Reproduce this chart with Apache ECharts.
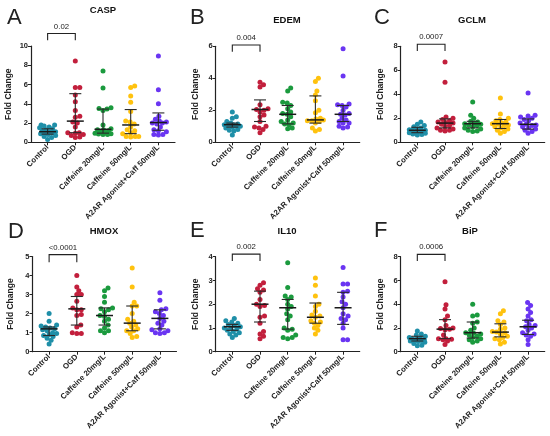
<!DOCTYPE html>
<html>
<head>
<meta charset="utf-8">
<script src="https://cdn.jsdelivr.net/npm/echarts@6/dist/echarts.min.js"></script>
<style>html,body{margin:0;padding:0;background:#fff}#c{width:550px;height:436px}</style>
</head>
<body>
<div id="c"></div>
<script>
// ---- data ----
const groups = ['Control', 'OGD', 'Caffeine 20mg/L', 'Caffeine 50mg/L', 'A2AR Agonist+Caff 50mg/L'];
const groupColors = ['#1f8fa8', '#c21f3c', '#1b9a3e', '#ffc20e', '#6a35f2'];
const panelTitles = ['CASP', 'EDEM', 'GCLM', 'HMOX', 'IL10', 'BiP'];
const panelLetters = ['A', 'B', 'C', 'D', 'E', 'F'];
const pValues = ['0.02', '0.004', '0.0007', '<0.0001', '0.002', '0.0006'];
const yMax = [10, 6, 8, 5, 4, 8];
const yInterval = [2, 2, 2, 1, 1, 2];
const bracketTop = [11.3, 6.08, 8.17, 5.1, 4.11, 8.2];
const bracketLeg = [10.6, 5.66, 7.6, 4.7, 3.82, 7.64];

const casp = [
  [1.8, 1.8, 1.7, 1.6, 1.5, 1.4, 1.3, 1.2, 1.1, 1.1, 1.0, 1.0, 0.9, 0.8, 0.7, 0.6, 0.5, 0.3],
  [8.45, 5.7, 5.7, 4.9, 4.2, 3.3, 2.7, 2.6, 2.1, 2.0, 1.6, 1.0, 1.0, 0.95, 0.8, 0.7, 0.5, 0.55],
  [7.4, 5.65, 3.6, 3.5, 3.45, 3.3, 1.8, 1.4, 1.3, 1.3, 1.2, 1.1, 1.0, 0.95, 0.9, 0.85, 0.8, 0.8],
  [5.85, 5.7, 4.8, 4.15, 3.2, 2.2, 2.1, 1.9, 1.6, 1.3, 1.2, 1.0, 0.9, 0.6, 0.6, 0.6, 0.55],
  [8.95, 5.45, 4.0, 2.7, 2.4, 2.2, 2.1, 2.0, 2.0, 1.9, 1.6, 1.3, 1.2, 1.1, 0.8, 0.8, 0.75]
];
const caspStats = [[1.1, 0.85, 1.4], [2.2, 1.0, 5.05], [1.35, 0.95, 3.45], [1.8, 0.9, 3.4], [2.05, 1.25, 3.05]];

const edem = [
  [1.9, 1.6, 1.5, 1.3, 1.2, 1.15, 1.1, 1.1, 1.05, 1.0, 1.0, 0.95, 0.9, 0.8, 0.75, 0.7, 0.45],
  [3.75, 3.6, 3.45, 2.35, 2.1, 2.05, 2.0, 1.9, 1.7, 1.6, 1.3, 1.0, 0.95, 0.9, 0.8, 0.6],
  [3.4, 3.2, 2.5, 2.45, 2.3, 2.1, 1.9, 1.8, 1.75, 1.6, 1.4, 1.3, 1.2, 1.15, 1.1, 0.9, 0.85],
  [4.0, 3.8, 3.2, 2.95, 2.6, 2.0, 1.85, 1.5, 1.45, 1.4, 1.35, 1.35, 1.3, 1.2, 0.9, 0.8, 0.7],
  [5.85, 4.15, 2.4, 2.35, 2.3, 2.2, 2.0, 1.8, 1.75, 1.7, 1.5, 1.4, 1.3, 1.2, 1.2, 1.0, 0.95, 0.9]
];
const edemStats = [[1.1, 0.95, 1.2], [2.05, 1.3, 2.65], [1.75, 1.15, 2.3], [1.4, 1.2, 2.9], [1.75, 1.3, 2.3]];

const gclm = [
  [1.7, 1.5, 1.4, 1.3, 1.2, 1.1, 1.05, 1.0, 1.0, 0.95, 0.9, 0.9, 0.8, 0.75, 0.7, 0.65, 0.6],
  [6.7, 5.0, 2.1, 2.0, 1.9, 1.8, 1.7, 1.65, 1.6, 1.5, 1.4, 1.3, 1.2, 1.1, 1.0, 1.0, 0.95],
  [3.35, 2.25, 2.0, 1.75, 1.7, 1.6, 1.55, 1.5, 1.45, 1.4, 1.3, 1.2, 1.1, 1.0, 0.95, 0.9],
  [3.7, 2.35, 2.0, 1.9, 1.8, 1.7, 1.6, 1.55, 1.5, 1.45, 1.4, 1.3, 1.2, 1.1, 1.0, 0.9, 0.75],
  [4.1, 2.25, 2.2, 2.1, 2.0, 1.9, 1.8, 1.6, 1.5, 1.45, 1.4, 1.3, 1.2, 1.1, 1.0, 0.9, 0.75]
];
const gclmStats = [[1.0, 0.8, 1.25], [1.6, 1.2, 1.95], [1.55, 1.2, 1.75], [1.55, 1.15, 1.9], [1.5, 1.1, 1.95]];

const hmox = [
  [2.0, 1.6, 1.4, 1.35, 1.3, 1.25, 1.2, 1.15, 1.1, 1.0, 0.95, 0.9, 0.85, 0.8, 0.7, 0.6, 0.4],
  [4.0, 3.4, 3.2, 3.0, 3.0, 2.65, 2.3, 2.2, 2.2, 1.95, 1.9, 1.4, 1.3, 1.0, 0.95, 0.95],
  [3.35, 3.2, 2.9, 2.6, 2.3, 2.25, 2.2, 2.1, 1.9, 1.85, 1.7, 1.6, 1.4, 1.25, 1.1, 1.1, 1.0],
  [4.4, 3.4, 2.6, 2.4, 2.4, 2.0, 1.7, 1.6, 1.5, 1.4, 1.3, 1.2, 1.1, 1.1, 0.95, 0.8, 0.75],
  [3.1, 2.7, 2.25, 2.2, 2.1, 2.0, 1.9, 1.75, 1.6, 1.5, 1.4, 1.2, 1.15, 1.1, 1.0, 1.0, 0.95]
];
const hmoxStats = [[1.2, 0.85, 1.3], [2.25, 1.4, 2.9], [1.9, 1.4, 2.3], [1.5, 1.1, 2.4], [1.75, 1.2, 2.2]];

const il10 = [
  [1.4, 1.3, 1.25, 1.2, 1.15, 1.1, 1.05, 1.0, 1.0, 0.95, 0.9, 0.85, 0.8, 0.75, 0.7, 0.6],
  [2.9, 2.8, 2.65, 2.6, 2.5, 2.2, 2.0, 1.95, 1.9, 1.5, 1.45, 1.2, 0.85, 0.75, 0.65, 0.55],
  [3.75, 2.7, 2.35, 2.3, 2.2, 2.0, 1.9, 1.8, 1.6, 1.5, 1.35, 1.0, 0.95, 0.9, 0.7, 0.6, 0.6, 0.55],
  [3.1, 2.8, 2.35, 2.0, 1.9, 1.7, 1.55, 1.5, 1.45, 1.3, 1.25, 1.2, 1.1, 1.0, 0.9, 0.75],
  [3.55, 2.85, 2.85, 2.55, 2.5, 2.3, 2.1, 2.0, 1.85, 1.6, 1.5, 1.4, 1.35, 1.2, 1.0, 0.5, 0.5]
];
const il10Stats = [[1.05, 0.9, 1.15], [2.0, 1.25, 2.55], [1.85, 0.95, 2.2], [1.45, 1.2, 2.05], [1.85, 1.15, 2.5]];

const bip = [
  [1.75, 1.5, 1.4, 1.3, 1.2, 1.15, 1.1, 1.05, 1.0, 1.0, 0.95, 0.9, 0.85, 0.8, 0.7, 0.55, 0.5],
  [5.9, 3.95, 3.6, 3.0, 2.7, 2.2, 2.0, 1.95, 1.9, 1.85, 1.4, 1.1, 1.1, 1.05, 1.0, 0.9, 0.6],
  [4.0, 3.1, 3.0, 2.5, 2.4, 2.0, 1.8, 1.6, 1.55, 1.5, 1.4, 1.3, 1.2, 1.1, 1.0, 0.9, 0.8],
  [3.45, 3.2, 2.6, 2.5, 2.3, 2.0, 1.9, 1.7, 1.65, 1.6, 1.5, 1.3, 1.2, 1.1, 1.0, 0.8, 0.65],
  [4.15, 3.9, 3.6, 3.3, 3.0, 2.7, 2.6, 2.3, 2.2, 2.1, 2.0, 1.8, 1.6, 1.5, 1.4, 1.3, 1.0, 0.6]
];
const bipStats = [[1.1, 0.9, 1.3], [1.9, 1.1, 2.7], [1.6, 1.15, 2.5], [1.65, 1.25, 2.35], [2.1, 1.45, 2.65]];

const panelData = [casp, edem, gclm, hmox, il10, bip];
const panelStats = [caspStats, edemStats, gclmStats, hmoxStats, il10Stats, bipStats];

// ---- layout (pixels) ----
const layout = [
  {left: 31, top: 46, width: 144, height: 96.3, nameGap: 18},
  {left: 215.7, top: 46.3, width: 144, height: 96, nameGap: 16},
  {left: 400.7, top: 46.3, width: 144, height: 96, nameGap: 16},
  {left: 32.5, top: 256.5, width: 144, height: 95.2, nameGap: 17},
  {left: 215.7, top: 256.7, width: 144, height: 95, nameGap: 16},
  {left: 400.7, top: 256.7, width: 144, height: 95, nameGap: 16}
];
const titlePos = [[103, 10], [287, 20], [472, 20], [104, 231], [287, 231], [470, 231]];
const letterPos = [[7, 18], [190, 18], [374, 18], [8, 232], [190, 231], [374, 231]];
const xMin = -0.6, xMax = 4.6;
const FONT = '"Liberation Sans", Arial, Helvetica, sans-serif';
const DOT = 5;
const MIN_GAP = 4.2;
const MAX_HALF = 8;

// beeswarm: horizontal spreading of dots (pixel space), limited width, overlap allowed when crowded
function swarm(vals, pxY, pxX) {
  const order = vals.map((v, i) => i).sort((a, b) => vals[a] - vals[b]);
  const placed = [];
  const off = new Array(vals.length).fill(0);
  const cands = [0];
  for (let j = 1; j * 0.5 <= MAX_HALF; j++) { cands.push(j * 0.5, -j * 0.5); }
  for (const i of order) {
    const y = vals[i] * pxY;
    let chosen = null, best = -1, bestC = 0;
    for (const c of cands) {
      let md = Infinity;
      for (const p of placed) {
        const dx = p.x - c, dy = p.y - y;
        md = Math.min(md, Math.sqrt(dx * dx + dy * dy));
      }
      if (md >= MIN_GAP) { chosen = c; break; }
      if (md > best + 0.01) { best = md; bestC = c; }
    }
    if (chosen === null) chosen = bestC;
    placed.push({x: chosen, y: y});
    off[i] = chosen / pxX;
  }
  return off;
}

const grid = [], xAxis = [], yAxis = [], series = [], graphic = [];
panelData.forEach((groupsVals, p) => {
  const L = layout[p];
  grid.push({left: L.left, top: L.top, width: L.width, height: L.height});
  xAxis.push({
    type: 'value', gridIndex: p, min: xMin, max: xMax,
    axisLine: {show: true, onZero: false, lineStyle: {color: '#222', width: 1.2}},
    axisTick: {show: true, customValues: [0, 1, 2, 3, 4], length: 3, lineStyle: {color: '#222', width: 1}},
    axisLabel: {customValues: [0, 1, 2, 3, 4], formatter: v => groups[Math.round(v)], rotate: 45,
      fontSize: 7.8, fontWeight: 'bold', color: '#222', fontFamily: FONT, margin: 4},
    splitLine: {show: false}
  });
  yAxis.push({
    type: 'value', gridIndex: p, min: 0, max: yMax[p], interval: yInterval[p],
    axisLine: {show: true, onZero: false, lineStyle: {color: '#222', width: 1.2}},
    axisTick: {show: true, length: 3, lineStyle: {color: '#222', width: 1}},
    axisLabel: {fontSize: 7.5, fontWeight: 'bold', color: '#222', fontFamily: FONT, margin: 3},
    splitLine: {show: false},
    name: 'Fold Change', nameLocation: 'middle', nameGap: L.nameGap,
    nameTextStyle: {fontSize: 8.5, fontWeight: 'bold', color: '#222', fontFamily: FONT}
  });
  const pxY = L.height / yMax[p], pxX = L.width / (xMax - xMin);
  groupsVals.forEach((vals, g) => {
    const off = swarm(vals, pxY, pxX);
    series.push({
      type: 'scatter', xAxisIndex: p, yAxisIndex: p, symbolSize: DOT,
      itemStyle: {color: groupColors[g], opacity: 1}, z: 2, silent: true,
      data: vals.map((v, i) => [g + off[i], v])
    });
  });
  series.push({
    type: 'custom', xAxisIndex: p, yAxisIndex: p, z: 5, clip: false, silent: true,
    encode: {x: 0, y: [1, 2, 3]},
    data: panelStats[p].map((s, g) => [g, s[0], s[1], s[2]]),
    renderItem: (params, api) => {
      const x = api.value(0);
      const pm = api.coord([x, api.value(1)]);
      const p1 = api.coord([x, api.value(2)]);
      const p3 = api.coord([x, api.value(3)]);
      const st = {stroke: '#2a2a2a', lineWidth: 1.1};
      return {type: 'group', children: [
        {type: 'line', shape: {x1: pm[0], y1: p1[1], x2: pm[0], y2: p3[1]}, style: st},
        {type: 'line', shape: {x1: pm[0] - 6, y1: p1[1], x2: pm[0] + 6, y2: p1[1]}, style: st},
        {type: 'line', shape: {x1: pm[0] - 6, y1: p3[1], x2: pm[0] + 6, y2: p3[1]}, style: st},
        {type: 'line', shape: {x1: pm[0] - 8.5, y1: pm[1], x2: pm[0] + 8.5, y2: pm[1]}, style: {stroke: '#1a1a1a', lineWidth: 1.5}}
      ]};
    }
  });
  series.push({
    type: 'custom', xAxisIndex: p, yAxisIndex: p, z: 5, clip: false, silent: true,
    encode: {x: [0, 1], y: [2, 3]},
    data: [[0, 1, bracketTop[p], bracketLeg[p]]],
    renderItem: (params, api) => {
      const a = api.coord([api.value(0), api.value(2)]);
      const b = api.coord([api.value(1), api.value(2)]);
      const aL = api.coord([api.value(0), api.value(3)]);
      return {type: 'group', children: [
        {type: 'polyline', shape: {points: [[a[0], aL[1]], a, b, [b[0], aL[1]]]},
          style: {stroke: '#222', lineWidth: 1.1, fill: null}},
        {type: 'text', style: {text: pValues[p], x: (a[0] + b[0]) / 2, y: a[1] - 3,
          align: 'center', verticalAlign: 'bottom', fill: '#222', font: '7.8px ' + FONT}}
      ]};
    }
  });
  graphic.push({type: 'text', x: titlePos[p][0], y: titlePos[p][1],
    style: {text: panelTitles[p], align: 'center', verticalAlign: 'middle', fill: '#111',
      font: 'bold 9.5px ' + FONT}});
  graphic.push({type: 'text', x: letterPos[p][0], y: letterPos[p][1],
    style: {text: panelLetters[p], align: 'left', verticalAlign: 'middle', fill: '#222',
      font: '22px ' + FONT}});
});

const chart = echarts.init(document.getElementById('c'), null, {renderer: 'canvas'});
chart.setOption({animation: false, backgroundColor: '#fff', grid, xAxis, yAxis, series, graphic});
</script>
</body>
</html>
